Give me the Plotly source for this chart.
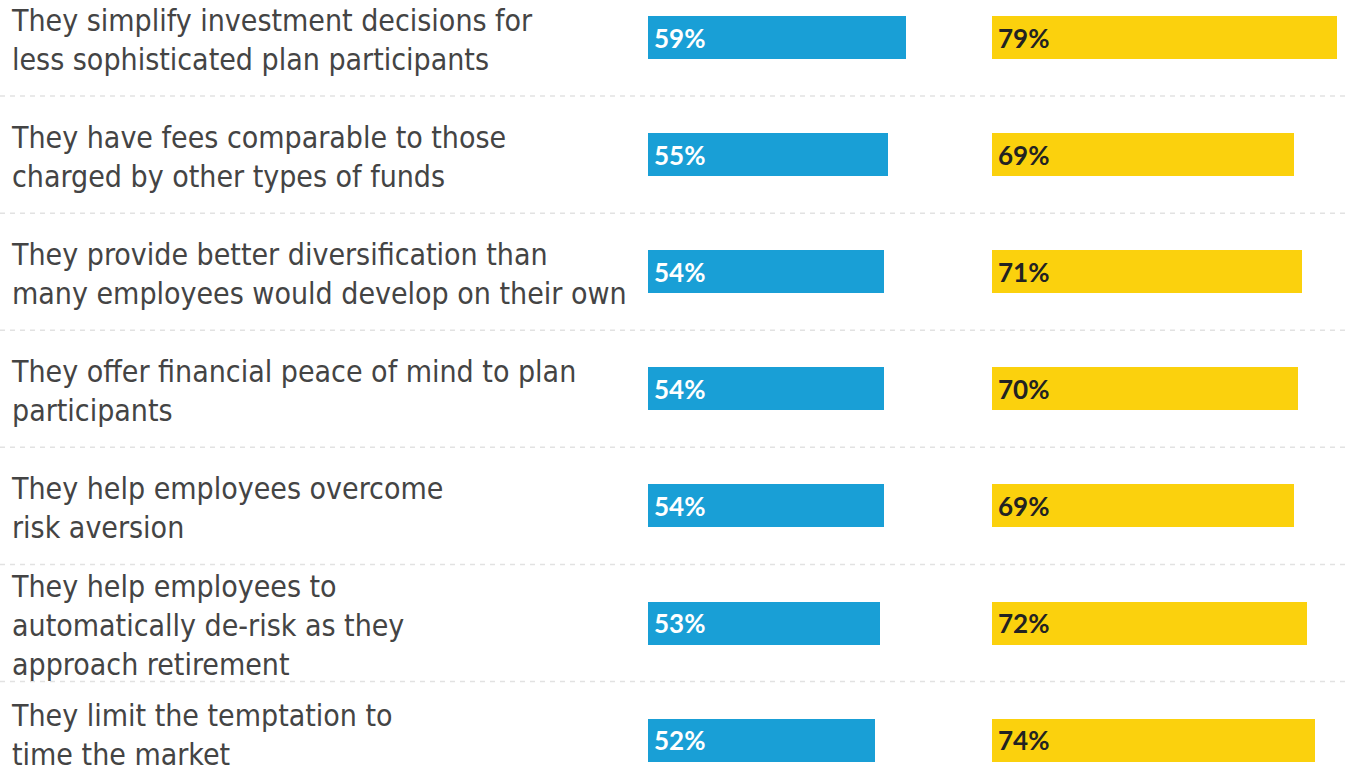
import plotly.graph_objects as go

# Survey statements and share agreeing, two respondent groups
statements = [
    "They simplify investment decisions for<br>less sophisticated plan participants",
    "They have fees comparable to those<br>charged by other types of funds",
    "They provide better diversification than<br>many employees would develop on their own",
    "They offer financial peace of mind to plan<br>participants",
    "They help employees overcome<br>risk aversion",
    "They help employees to<br>automatically de-risk as they<br>approach retirement",
    "They limit the temptation to<br>time the market",
]
group_a = [59, 55, 54, 54, 54, 53, 52]
group_b = [79, 69, 71, 70, 69, 72, 74]

W, H = 1348, 774
BLUE = "#199FD6"
YELLOW = "#FBD10D"
LABEL_FONT = "Liberation Sans Narrow, DejaVu Sans Condensed, Roboto, sans-serif"
VALUE_FONT = "Lato, Open Sans, sans-serif"

px_per_pct = 4.37
a_left, a_right = 648, 985
b_left, b_right = 992, 1348

rows = list(range(len(statements)))
row_step = 117.1
first_center = 37.5
y_top = -first_center / row_step
y_bottom = (H - first_center) / row_step

fig = go.Figure()
fig.add_trace(go.Bar(
    x=group_a, y=rows, orientation="h", xaxis="x", yaxis="y",
    marker=dict(color=BLUE, line=dict(width=0)), width=43 / row_step,
    hoverinfo="skip", showlegend=False,
))
fig.add_trace(go.Bar(
    x=group_b, y=rows, orientation="h", xaxis="x2", yaxis="y",
    marker=dict(color=YELLOW, line=dict(width=0)), width=43 / row_step,
    hoverinfo="skip", showlegend=False,
))

annotations = []
for i, (s, a, b) in enumerate(zip(statements, group_a, group_b)):
    # keep the bottom label block inside the canvas
    shift = 5 if i == len(statements) - 1 else -2
    annotations.append(dict(
        x=9 / W, y=i, xref="paper", yref="y", text=s, showarrow=False,
        xanchor="left", yanchor="middle", align="left", yshift=shift,
        font=dict(family=LABEL_FONT, size=30, color="#444444"),
    ))
    annotations.append(dict(
        x=0, y=i, xref="x", yref="y", text=f"{a}%", showarrow=False,
        xanchor="left", yanchor="middle", xshift=4,
        font=dict(family=VALUE_FONT, size=26, color="#ffffff", weight="bold"),
    ))
    annotations.append(dict(
        x=0, y=i, xref="x2", yref="y", text=f"{b}%", showarrow=False,
        xanchor="left", yanchor="middle", xshift=4,
        font=dict(family=VALUE_FONT, size=26, color="#222222", weight="bold"),
    ))

# dashed separators between rows
shapes = []
for i in rows[:-1]:
    shapes.append(dict(
        type="line", xref="paper", yref="y", x0=0, x1=1, y0=i + 0.5, y1=i + 0.5,
        line=dict(color="#e2e2e2", width=1.5, dash="5px,5px"), layer="below",
    ))

fig.update_layout(
    width=W, height=H,
    margin=dict(l=0, r=0, t=0, b=0),
    paper_bgcolor="white", plot_bgcolor="white",
    xaxis=dict(domain=[a_left / W, a_right / W], range=[0, (a_right - a_left) / px_per_pct],
               visible=False, fixedrange=True),
    xaxis2=dict(domain=[b_left / W, b_right / W], range=[0, (b_right - b_left) / px_per_pct],
                visible=False, fixedrange=True, anchor="y"),
    yaxis=dict(range=[y_bottom, y_top], visible=False, fixedrange=True),
    annotations=annotations,
    shapes=shapes,
    bargap=0,
)

fig.write_html("out.html", config=dict(displayModeBar=False))
